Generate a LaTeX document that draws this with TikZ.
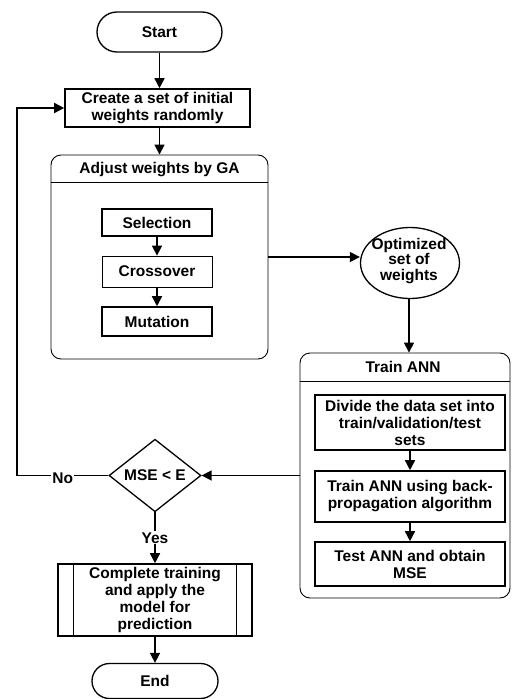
\documentclass[tikz,border=0pt]{standalone}
\usepackage{fontspec}
\setmainfont{Liberation Sans}
\usetikzlibrary{arrows.meta,shapes.geometric}

\begin{document}
\begin{tikzpicture}[x=1pt,y=-1pt,
  font=\fontsize{15.5}{17}\selectfont\bfseries,
  >={Triangle[length=10pt,width=10pt]},
  box/.style={draw, rectangle, line width=1.6pt, align=center, inner sep=2pt},
  frame/.style={draw, rectangle, line width=0.9pt, rounded corners=10pt},
  term/.style={draw, rectangle, line width=1.3pt},
  link/.style={->, line width=1.6pt}]
\useasboundingbox (0,0) rectangle (512,699);

\node[term, minimum width=125pt, minimum height=40pt, rounded corners=20pt] (start) at (159.5,32) {Start};
\node[box, minimum width=185pt, minimum height=38pt] (init) at (157.5,108) {Create a set of initial\\weights randomly};

% GA block
\node[frame, minimum width=217pt, minimum height=204pt] (ga) at (159.5,257) {};
\node (gatitle) at (159.5,170) {Adjust weights by GA};
\draw[line width=0.9pt] ([yshift=-28pt]ga.north west) -- ([yshift=-28pt]ga.north east);
\node[box, minimum width=110pt, minimum height=27pt] (sel) at (157,222.5) {Selection};
\node[box, line width=0.8pt, minimum width=110pt, minimum height=31pt] (cross) at (157,271.5) {Crossover};
\node[box, minimum width=110pt, minimum height=29pt] (mut) at (157,321.5) {Mutation};

\node[draw, ellipse, line width=1.3pt, minimum width=99pt, minimum height=71pt] (opt) at (410,263) {};
\node[align=center, font=\fontsize{15.5}{15.5}\selectfont\bfseries] (optlabel) at (409,261) {Optimized\\set of\\weights};

% ANN block
\node[frame, minimum width=210pt, minimum height=245pt] (ann) at (405,475.5) {};
\node (anntitle) at (403,367) {Train ANN};
\draw[line width=0.9pt] ([yshift=-29pt]ann.north west) -- ([yshift=-29pt]ann.north east);
\node[box, minimum width=190pt, minimum height=55pt] (split) at (410,422.5) {Divide the data set into\\train/validation/test\\sets};
\node[box, minimum width=190pt, minimum height=51pt] (bp) at (410,496.5) {Train ANN using back-\\propagation algorithm};
\node[box, minimum width=190pt, minimum height=44pt] (test) at (410,564) {Test ANN and obtain\\MSE};

\node[draw, diamond, line width=1.3pt, minimum width=92pt, minimum height=62pt, inner sep=0pt] (check) at (155,475.5) {MSE < E};
\node[box, minimum width=194pt, minimum height=72pt] (final) at (155,600) {Complete training\\and apply the\\model for\\prediction};
\draw[line width=1.3pt] ([xshift=16pt]final.north west) -- ([xshift=16pt]final.south west);
\draw[line width=1.3pt] ([xshift=-16pt]final.north east) -- ([xshift=-16pt]final.south east);
\node[term, minimum width=126pt, minimum height=35pt, rounded corners=17.5pt] (stop) at (155,681) {End};

\coordinate (back) at (17,475.5);

\draw[link] (start) -- (start |- init.north);
\draw[link] (init.south -| start) -- (start |- ga.north);
\draw[link] (sel) -- (cross);
\draw[link] (cross) -- (mut);
\draw[link] (ga.east) -- (ga.east -| opt.west);
\draw[link] (opt.south -| optlabel) -- (optlabel |- ann.north);
\draw[link] (split) -- (bp);
\draw[link] (bp) -- (test);
\draw[link] (ann.west) -- (check.east);
\draw[link] (check) -- node[fill=white, inner sep=1pt] (yes) {Yes} (final);
\draw[link] (final) -- (stop);
\draw[link] (check.west) -- node[fill=white, inner sep=1pt, yshift=-3pt] (no) {No} (back) |- (init.west);
\end{tikzpicture}
\end{document}
